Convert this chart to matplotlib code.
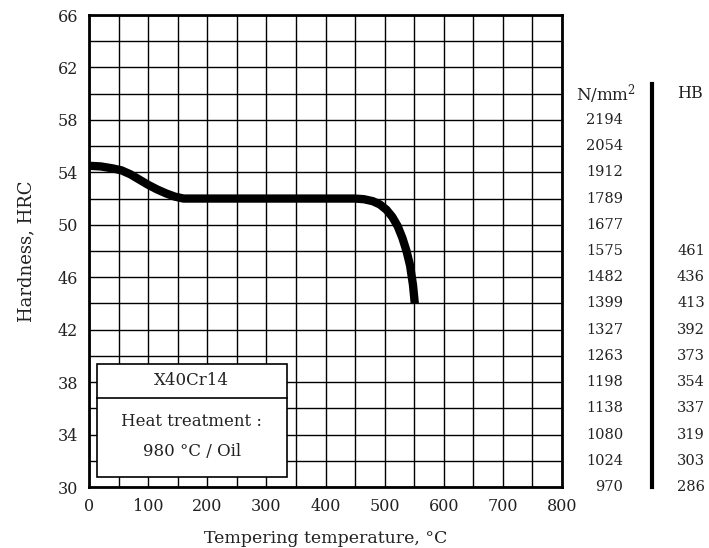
import matplotlib.pyplot as plt

plt.rcParams['font.family'] = ['DejaVu Serif']
plt.rcParams['mathtext.fontset'] = 'dejavuserif'

# tempering curve
temps = [0, 20, 40, 55, 70, 85, 100, 115, 130, 145, 160, 200, 300, 400, 450, 465, 480,
         492, 503, 513, 522, 530, 537, 543, 548, 551]
hrc = [54.5, 54.45, 54.3, 54.15, 53.85, 53.45, 53.05, 52.7, 52.4, 52.15, 52.0, 52.0, 52.0,
       52.0, 52.0, 51.95, 51.8, 51.55, 51.15, 50.6, 49.9, 49.0, 48.0, 46.9, 45.4, 44.0]

# conversion columns on the right
conv_hrc = [58, 56, 54, 52, 50, 48, 46, 44, 42, 40, 38, 36, 34, 32, 30]
tensile = [2194, 2054, 1912, 1789, 1677, 1575, 1482, 1399, 1327, 1263, 1198, 1138, 1080, 1024, 970]
hb_hrc = [48, 46, 44, 42, 40, 38, 36, 34, 32, 30]
hb = [461, 436, 413, 392, 373, 354, 337, 319, 303, 286]

steel = "X40Cr14"
treatment = ["Heat treatment :", "980 °C / Oil"]

fig = plt.figure(figsize=(7.09, 5.48), dpi=100)
ax = fig.add_axes([89 / 709, 61 / 548, 473 / 709, 472 / 548])

ax.set_xlim(0, 800)
ax.set_ylim(30, 66)
ax.set_xticks(range(0, 801, 50), minor=True)
ax.set_xticks(range(0, 801, 100))
ax.set_yticks(range(30, 67, 2), minor=True)
ax.set_yticks(range(30, 67, 4))
ax.grid(True, which='both', color='black', linewidth=1.0)
ax.tick_params(which='both', length=0, labelsize=11.5, colors='#222222', pad=8)
for s in ax.spines.values():
    s.set_linewidth(2)

ax.plot(temps, hrc, color='black', linewidth=6, solid_capstyle='butt',
        solid_joinstyle='round', zorder=5)

ax.set_xlabel("Tempering temperature, °C", fontsize=12.5, labelpad=11, color='#222222')
ax.set_ylabel("Hardness, HRC", fontsize=13, labelpad=16, color='#222222')

# info box
box = plt.Rectangle((13.5, 30.8), 321.5, 8.6, facecolor='white', edgecolor='black',
                    linewidth=1.2, zorder=6)
ax.add_patch(box)
ax.plot([13.5, 335], [36.8, 36.8], color='black', linewidth=1.2, zorder=7)
ax.text(174, 38.1, steel, ha='center', va='center', fontsize=12, zorder=8, color='#222222')
ax.text(174, 35.0, treatment[0], ha='center', va='center', fontsize=12, zorder=8, color='#222222')
ax.text(174, 32.7, treatment[1], ha='center', va='center', fontsize=12, zorder=8, color='#222222')

# conversion table
tr = ax.get_yaxis_transform()
ax.text(1.093, 60, "N/mm$^2$", transform=tr, ha='center', va='center', fontsize=12, color='#222222')
ax.text(1.271, 60, "HB", transform=tr, ha='center', va='center', fontsize=11.5, color='#222222')
for y, v in zip(conv_hrc, tensile):
    ax.text(1.129, y, str(v), transform=tr, ha='right', va='center', fontsize=10.5, color='#222222')
for y, v in zip(hb_hrc, hb):
    ax.text(1.302, y, str(v), transform=tr, ha='right', va='center', fontsize=10.5, color='#222222')
ax.plot([1.190, 1.190], [30, 60.7], transform=tr, color='black', linewidth=3, clip_on=False)

fig.savefig("out.png", dpi=100)
